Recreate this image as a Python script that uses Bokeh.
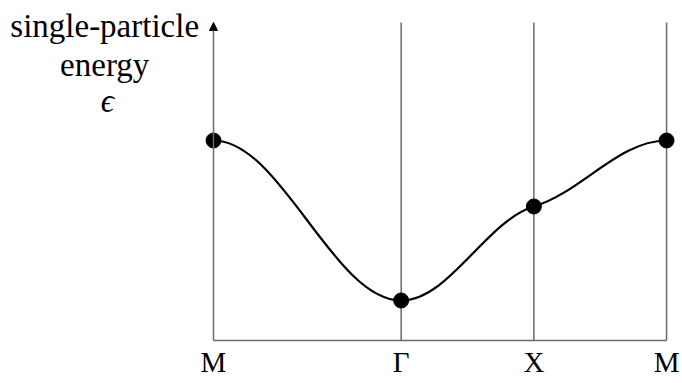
import numpy as np
from bokeh.plotting import figure
from bokeh.models import Range1d, Arrow, NormalHead, ColumnDataSource
from bokeh.core.properties import value
from bokeh.embed import file_html
from bokeh.resources import INLINE

# High-symmetry points along the k-path and the band energy at each
points = ["M", "Γ", "X", "M"]
k_path = [0.0, 1.414, 2.414, 3.414]
energy = [1.0, 0.2, 0.67, 1.0]
# band slope dE/dk at each high-symmetry point
slope = [0.0, 0.0, 0.2, 0.0]

ylabel_lines = ["single-particle", "energy", "ϵ"]

AXIS_TOP = 1.59
GRAY = "#6b6b6b"
SERIF = "'Liberation Serif', serif"

p = figure(width=682, height=383, x_range=Range1d(-1.605, 3.534),
           y_range=Range1d(-0.215, 1.7), min_border=0,
           toolbar_location=None, output_backend="svg")
p.axis.visible = False
p.grid.visible = False
p.outline_line_color = None
p.background_fill_color = "white"
p.border_fill_color = "white"

k = np.array(k_path)
e = np.array(energy)
m = np.array(slope)

# baseline of the band diagram
p.segment(x0=[k[0]], y0=[0], x1=[k[-1]], y1=[0], line_color=GRAY, line_width=1.5)
# vertical lines at Γ, X, M
p.segment(x0=k[1:], y0=np.zeros(len(k) - 1), x1=k[1:], y1=np.full(len(k) - 1, AXIS_TOP),
          line_color=GRAY, line_width=1.5)
# energy axis with arrow
p.add_layout(Arrow(x_start=k[0], y_start=0, x_end=k[0], y_end=AXIS_TOP,
                   line_color=GRAY, line_width=1.5,
                   end=NormalHead(size=8, fill_color="black", line_color="black")))

# band as Hermite segments drawn with cubic Bezier pieces
h = np.diff(k)
frac = 0.36
seg = ColumnDataSource(dict(
    x0=k[:-1], y0=e[:-1], x1=k[1:], y1=e[1:],
    cx0=k[:-1] + frac * h, cy0=e[:-1] + frac * h * m[:-1],
    cx1=k[1:] - frac * h, cy1=e[1:] - frac * h * m[1:],
))
p.bezier(x0="x0", y0="y0", x1="x1", y1="y1", cx0="cx0", cy0="cy0",
         cx1="cx1", cy1="cy1", source=seg, line_color="black", line_width=2.2)

p.scatter(k, e, size=15, color="black")

# k-point labels
p.text(x=k, y=np.full(len(k), -0.105), text=points, text_align="center",
       text_baseline="alphabetic", text_font=value(SERIF), text_font_size="29px",
       text_color="black")

# energy axis title
p.text(x=[-0.82, -0.82, -0.80], y=[1.575, 1.38, 1.20], text=ylabel_lines,
       text_align="center", text_baseline="alphabetic", text_font=value(SERIF),
       text_font_size="33px", text_color="black",
       text_font_style=["normal", "normal", "italic"])

open("out.html", "w").write(file_html(p, INLINE))
